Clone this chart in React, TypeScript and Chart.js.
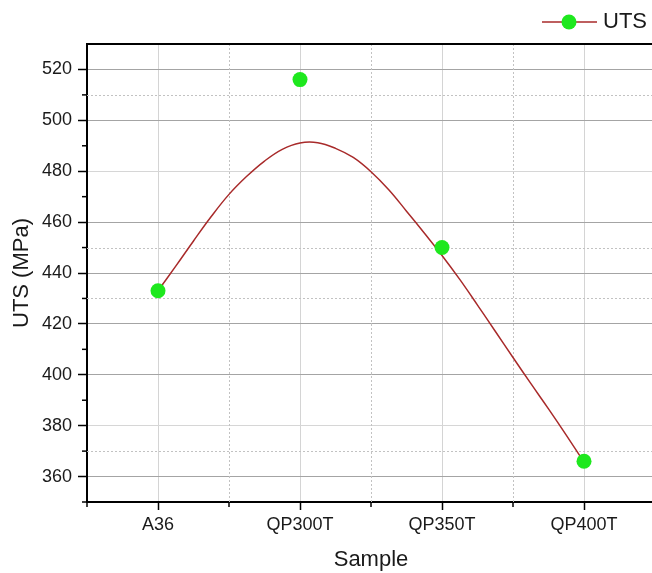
import React, { useEffect, useRef } from 'react';
import { Chart, registerables } from 'chart.js';

Chart.register(...registerables);

// ---- data ----
const categories = ['A36', 'QP300T', 'QP350T', 'QP400T'];
const utsValues = [433, 516, 450, 366];
const seriesLabel = 'UTS';

// fitted curve (x in category units, step 0.125)
const fitX = [
  0, 0.125, 0.25, 0.375, 0.5, 0.625, 0.75, 0.875, 1.0, 1.125, 1.25, 1.375, 1.5,
  1.625, 1.75, 1.875, 2.0, 2.125, 2.25, 2.375, 2.5, 2.625, 2.75, 2.875, 3.0,
];
const fitY = [
  433, 442.7, 452.6, 462.2, 470.9, 478.0, 484.0, 488.6, 491.1, 491.2, 489.0, 485.4, 479.8,
  472.7, 464.3, 455.7, 446.9, 437.5, 427.4, 417.1, 406.8, 396.6, 386.6, 376.3, 365.7,
];

// axes
const yMajorTicks = [360, 380, 400, 420, 440, 460, 480, 500, 520];
const yMinorTicks = [350, 370, 390, 410, 430, 450, 470, 490, 510];
const yMinorGrid = [370, 430, 450, 510];
const yFaintMajor = [380, 480];
const xMinorTicks = [-0.5, 0.5, 1.5, 2.5];
const xMinorGrid = [0.5, 1.5, 2.5];

const FONT = "'Liberation Sans', Arial, Helvetica, sans-serif";
const TEXT = '#1a1a1a';
const FIT_COLOR = '#a82a2a';
const DOT_COLOR = '#1ee81e';

const decor = {
  id: 'decor',
  beforeDatasetsDraw(chart: any) {
    const { ctx, chartArea, scales } = chart;
    const { left, right, top, bottom } = chartArea;
    const x = scales.x;
    const y = scales.y;
    ctx.save();
    ctx.strokeStyle = '#c2c2c2';
    ctx.lineWidth = 1;
    ctx.setLineDash([2, 2]);
    yMinorGrid.forEach((v) => {
      const py = Math.round(y.getPixelForValue(v)) + 0.5;
      ctx.beginPath();
      ctx.moveTo(left, py);
      ctx.lineTo(right, py);
      ctx.stroke();
    });
    xMinorGrid.forEach((v) => {
      const px = Math.round(x.getPixelForValue(v)) + 0.5;
      ctx.beginPath();
      ctx.moveTo(px, top);
      ctx.lineTo(px, bottom);
      ctx.stroke();
    });
    ctx.restore();
  },
  afterDraw(chart: any) {
    const { ctx, chartArea, scales } = chart;
    const { left, right, top, bottom } = chartArea;
    const x = scales.x;
    const y = scales.y;
    ctx.save();
    ctx.strokeStyle = '#000';
    ctx.lineWidth = 1.5;
    yMinorTicks.forEach((v) => {
      const py = y.getPixelForValue(v);
      ctx.beginPath();
      ctx.moveTo(left - 5, py);
      ctx.lineTo(left, py);
      ctx.stroke();
    });
    xMinorTicks.forEach((v) => {
      const px = x.getPixelForValue(v);
      ctx.beginPath();
      ctx.moveTo(px, bottom);
      ctx.lineTo(px, bottom + 5);
      ctx.stroke();
    });
    // top frame
    ctx.lineWidth = 2;
    ctx.beginPath();
    ctx.moveTo(left - 1, top);
    ctx.lineTo(right + 1, top);
    ctx.stroke();

    // legend
    const ly = 22;
    ctx.strokeStyle = FIT_COLOR;
    ctx.lineWidth = 1.5;
    ctx.beginPath();
    ctx.moveTo(542, ly);
    ctx.lineTo(597, ly);
    ctx.stroke();
    ctx.fillStyle = DOT_COLOR;
    ctx.beginPath();
    ctx.arc(569, ly, 7.5, 0, Math.PI * 2);
    ctx.fill();
    ctx.fillStyle = TEXT;
    ctx.font = `22px ${FONT}`;
    ctx.textBaseline = 'middle';
    ctx.textAlign = 'left';
    ctx.fillText(chart.data.datasets[0].label, 603, ly);
    ctx.restore();
  },
};

export default function App() {
  const ref = useRef<HTMLCanvasElement>(null);
  useEffect(() => {
    const points = utsValues.map((v, i) => ({ x: i, y: v }));
    const curve = fitX.map((xv, i) => ({ x: xv, y: fitY[i] }));
    const chart = new Chart(ref.current as HTMLCanvasElement, {
      type: 'line',
      data: {
        datasets: [
          {
            label: seriesLabel,
            data: points,
            showLine: false,
            pointRadius: 7.5,
            pointHoverRadius: 7.5,
            pointBackgroundColor: DOT_COLOR,
            pointBorderWidth: 0,
            backgroundColor: DOT_COLOR,
            borderColor: DOT_COLOR,
          },
          {
            label: 'fit',
            data: curve,
            pointRadius: 0,
            borderColor: FIT_COLOR,
            borderWidth: 1.5,
            tension: 0.4,
            fill: false,
          },
        ],
      },
      options: {
        responsive: false,
        animation: false,
        devicePixelRatio: 1,
        layout: { padding: { left: 0, top: 44, right: 9, bottom: 0 } },
        plugins: { legend: { display: false }, tooltip: { enabled: false } },
        scales: {
          x: {
            type: 'linear',
            min: -0.5,
            max: 3.5,
            afterBuildTicks: (s: any) => {
              s.ticks = categories.map((_, i) => ({ value: i }));
            },
            afterFit: (s: any) => {
              s.height = 71;
            },
            ticks: {
              autoSkip: false,
              maxRotation: 0,
              padding: 4,
              color: TEXT,
              font: { family: FONT, size: 18 },
              callback: (v: any) => categories[Math.round(Number(v))] ?? '',
            },
            grid: {
              color: '#d4d4d4',
              lineWidth: 1,
              tickLength: 8,
              tickColor: '#000',
              tickWidth: 1.5,
            },
            border: { color: '#000', width: 2 },
            title: {
              display: true,
              text: 'Sample',
              color: TEXT,
              font: { family: FONT, size: 22 },
              padding: { top: 0, bottom: 0 },
            },
          },
          y: {
            type: 'linear',
            min: 350,
            max: 530,
            afterBuildTicks: (s: any) => {
              s.ticks = yMajorTicks.map((v) => ({ value: v }));
            },
            afterFit: (s: any) => {
              s.width = 87;
            },
            ticks: {
              autoSkip: false,
              padding: 6,
              color: TEXT,
              font: { family: FONT, size: 18 },
              callback: (v: any) => String(v),
            },
            grid: {
              color: (c: any) => (c.tick && yFaintMajor.includes(c.tick.value) ? '#d6d6d6' : '#a4a4a4'),
              lineWidth: 1,
              tickLength: 9,
              tickColor: '#000',
              tickWidth: 1.5,
            },
            border: { color: '#000', width: 2 },
            title: {
              display: true,
              text: 'UTS (MPa)',
              color: TEXT,
              font: { family: FONT, size: 22 },
              padding: { top: 9, bottom: 0 },
            },
          },
        },
      },
      plugins: [decor],
    } as any);
    return () => chart.destroy();
  }, []);

  return (
    <div
      style={{
        position: 'fixed',
        left: 0,
        top: 0,
        width: 652,
        height: 573,
        overflow: 'hidden',
        background: '#fff',
      }}
    >
      <canvas ref={ref} width={664} height={573} style={{ display: 'block', width: 664, height: 573 }} />
    </div>
  );
}
